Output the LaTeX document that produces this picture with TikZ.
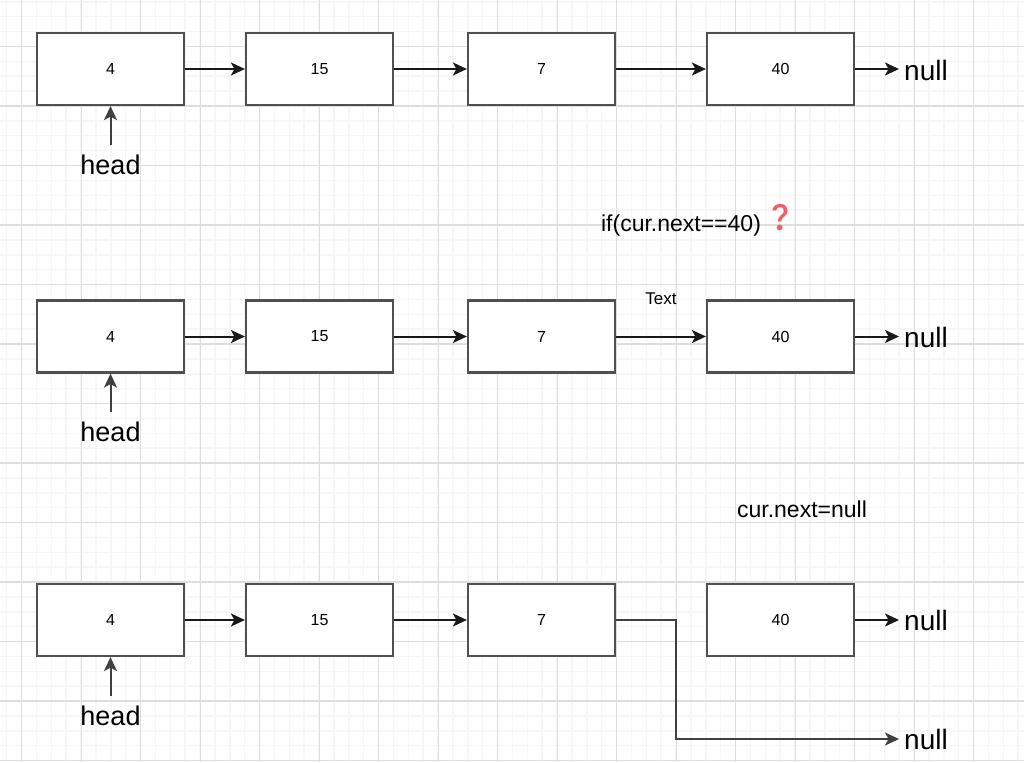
\documentclass[tikz,border=0pt]{standalone}
\usepackage{fontspec}
\setmainfont{Liberation Sans}
\newfontfamily\emojifont{Noto Emoji}
\usetikzlibrary{arrows.meta}
\definecolor{boxline}{RGB}{80,80,80}
\definecolor{minorline}{RGB}{246,246,246}
\definecolor{majorline}{RGB}{222,222,222}
\definecolor{qred}{RGB}{240,96,104}

\begin{document}
\begin{tikzpicture}[
    x=1pt, y=-1pt,
    cell/.style={rectangle, draw=boxline, line width=2.2pt, fill=white, minimum width=147pt, minimum height=72pt, font=\fontsize{16}{19}\selectfont},
    pointer/.style={font=\fontsize{27}{32}\selectfont, inner xsep=2pt, inner ysep=10pt},
    nullend/.style={font=\fontsize{28}{33}\selectfont, anchor=west, inner xsep=5pt, inner ysep=2pt},
    note/.style={font=\fontsize{23}{27}\selectfont, inner sep=2pt},
    arrow/.style={line width=2pt, draw=black!90, -{Stealth[length=14pt, width=13pt, inset=3.5pt]}},
    minorgrid/.style={draw=minorline, line width=1.5pt},
    majorgrid/.style={draw=majorline, line width=1.2pt}
]
    \useasboundingbox (0,0) rectangle (1024,762);
    \fill[white] (0,0) rectangle (1024,762);
    \foreach \i in {-1,...,67} \draw[minorgrid] ({21.6+14.875*\i},0) -- ++(0,762);
    \foreach \j in {-31,...,20} \draw[minorgrid] (0,{463+14.875*\j}) -- ++(1024,0);
    \foreach \k in {0,...,16} \draw[majorgrid] ({21.6+59.5*\k},0) -- ++(0,762);
    \foreach \k in {-7,...,5} \draw[majorgrid] (0,{463+59.5*\k}) -- ++(1024,0);
    \foreach \k in {225,463,701} \draw[majorgrid, line width=2pt] (0,\k) -- ++(1024,0);

    % first list
    \node [cell] (a4) at (110.5,69) {4};
    \node [cell] (a15) at (319.5,69) {15};
    \node [cell] (a7) at (541.5,69) {7};
    \node [cell] (a40) at (780.5,69) {40};
    \node [pointer] (ahead) at (110.5,165) {head};
    \node [nullend] (anull) at (899,70) {null};

    % second list
    \node [cell] (b4) at (110.5,336.5) {4};
    \node [cell] (b15) at (319.5,336.5) {15};
    \node [cell] (b7) at (541.5,336.5) {7};
    \node [cell] (b40) at (780.5,336.5) {40};
    \node [pointer] (bhead) at (110.5,432) {head};
    \node [nullend] (bnull) at (899,337) {null};
    \node [note] (check) at (681,226) {if(cur.next==40)};
    \node [font=\emojifont\fontsize{26}{30}\selectfont, text=qred, inner sep=0pt] (mark) at (780,218) {❓};

    % third list
    \node [cell] (c4) at (110.5,620) {4};
    \node [cell] (c15) at (319.5,620) {15};
    \node [cell] (c7) at (541.5,620) {7};
    \node [cell] (c40) at (780.5,620) {40};
    \node [pointer] (chead) at (110.5,716) {head};
    \node [nullend] (cnull) at (899,620) {null};
    \node [nullend] (cnulltail) at (899,739) {null};
    \node [note] (assign) at (802,509) {cur.next=null};

    \draw [arrow] (a4) -- (a15);
    \draw [arrow] (a15) -- (a7);
    \draw [arrow] (a7) -- (a40);
    \draw [arrow] (a40) -- (a40 -| anull.west);
    \draw [arrow, draw=black!75] (ahead) -- (a4);

    \draw [arrow] (b4) -- (b15);
    \draw [arrow] (b15) -- (b7);
    \draw [arrow] (b7) -- node [above=28pt, font=\fontsize{17}{20}\selectfont, inner sep=3pt] (blabel) {Text} (b40);
    \draw [arrow] (b40) -- (b40 -| bnull.west);
    \draw [arrow, draw=black!75] (bhead) -- (b4);

    \draw [arrow] (c4) -- (c15);
    \draw [arrow] (c15) -- (c7);
    \draw [arrow] (c40) -- (c40 -| cnull.west);
    \draw [arrow, draw=black!75] (c7.east) -- ++(60,0) |- (cnulltail);
    \draw [arrow, draw=black!75] (chead) -- (c4);
\end{tikzpicture}
\end{document}
